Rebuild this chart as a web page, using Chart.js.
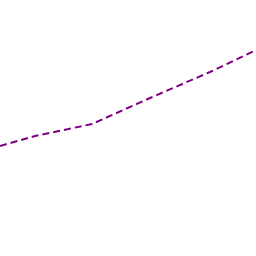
<!DOCTYPE html>
<html>
<head>
<meta charset="utf-8">
<script src="https://cdn.jsdelivr.net/npm/chart.js@4"></script>
<style>
html, body { margin: 0; padding: 0; background: #fff; }
#wrap { width: 256px; height: 256px; }
</style>
</head>
<body>
<div id="wrap"><canvas id="grafico"></canvas></div>
<script>
const xValues = [0, 35, 92, 150, 210, 256]
const yValues = [110, 120, 132, 158, 184, 206]

const ctx = document.getElementById("grafico").getContext("2d")

const grafico = new Chart(ctx, {
  type: "line",
  data: {
    datasets: [{
      data: xValues.map((x, i) => ({ x: x, y: yValues[i] })),
      borderColor: "#800080",
      borderWidth: 2,
      borderDash: [7, 4],
      pointRadius: 0,
      fill: false,
      tension: 0
    }]
  },
  options: {
    responsive: true,
    maintainAspectRatio: false,
    animation: false,
    layout: { padding: 0 },
    plugins: { legend: { display: false }, tooltip: { enabled: false } },
    scales: {
      x: { type: "linear", min: 0, max: 256, display: false },
      y: { min: 0, max: 256, display: false }
    }
  }
})
</script>
</body>
</html>
